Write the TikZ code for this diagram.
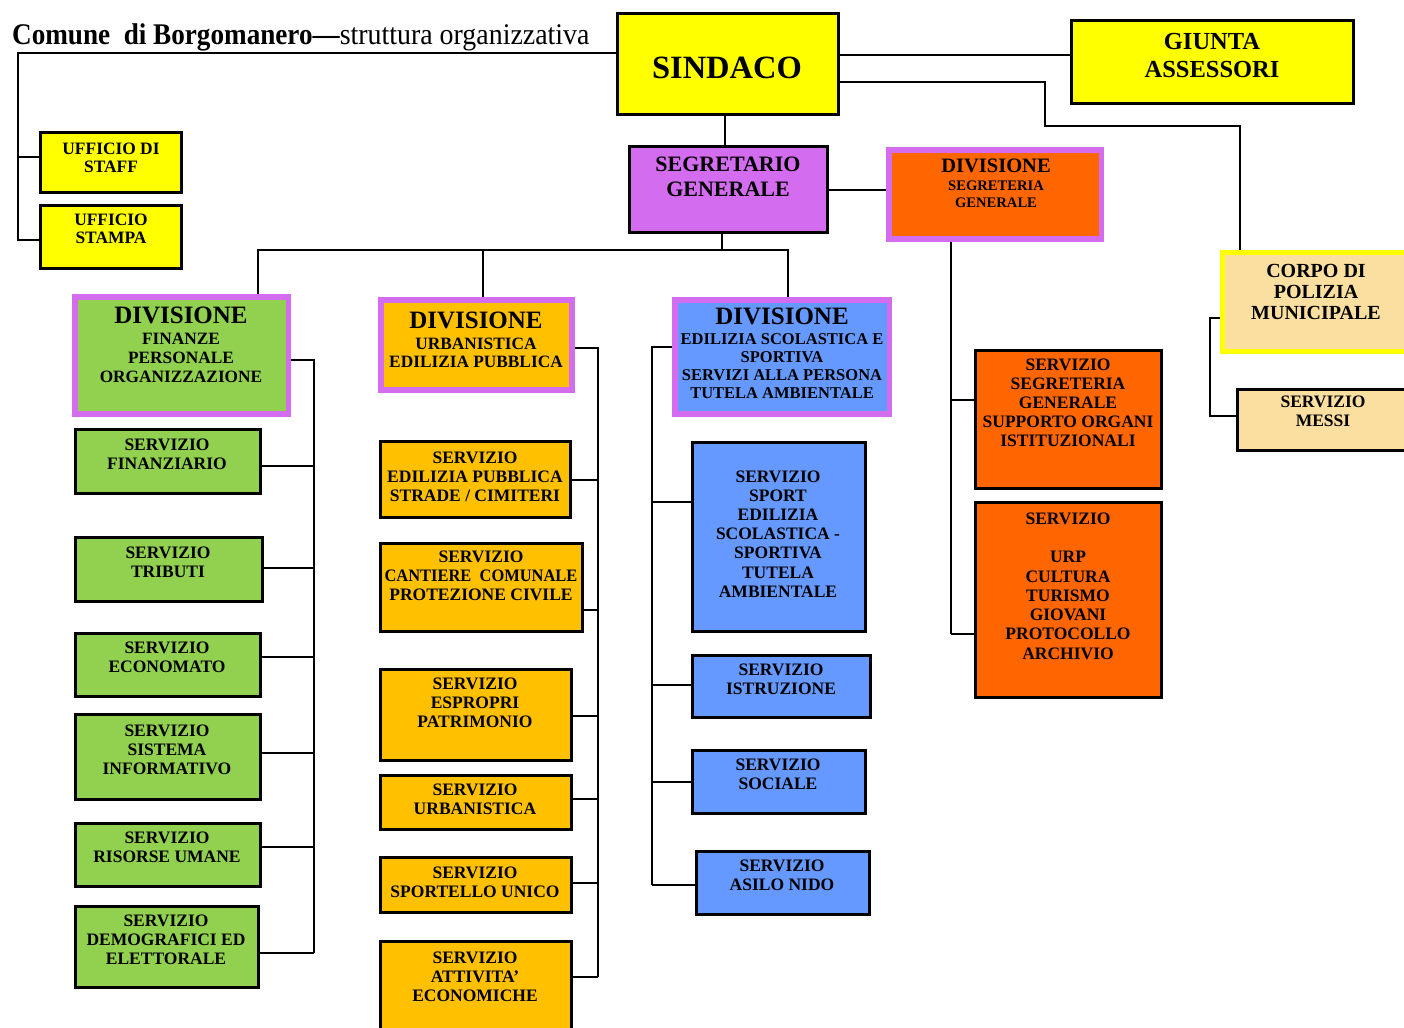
\documentclass[tikz,border=0pt]{standalone}
\usepackage{fontspec}
\setmainfont{Liberation Serif}
\usetikzlibrary{fit}
\definecolor{cYel}{HTML}{FFFF00}
\definecolor{cPur}{HTML}{D46CF0}
\definecolor{cGrn}{HTML}{92D050}
\definecolor{cAmb}{HTML}{FFC000}
\definecolor{cBlu}{HTML}{6699FF}
\definecolor{cOra}{HTML}{FF6600}
\definecolor{cSand}{HTML}{FADFA0}
\newcommand\bx[6]{\node[#2, fit={(#3,#4) (#5,#6)}] (#1) {};}
\newcommand\tx[5]{\node[#2] (#1) at (#3,#4) {#5};}
\newcommand\brc[3]{\coordinate (#1-b) at (#1.#2 |- 0,#3);}
\begin{document}
\begin{tikzpicture}[x=1pt,y=-1pt,
  box/.style={draw=black, line width=3pt, inner sep=0pt},
  frame/.style={fill=cPur, inner sep=0pt},
  inner/.style={inner sep=0pt},
  conn/.style={draw=black, line width=2.8pt},
  sv/.style={font=\fontsize{17.5}{19}\selectfont\bfseries, align=center, inner sep=0pt},
  dvt/.style={font=\fontsize{25}{25}\selectfont\bfseries, inner sep=0pt},
  dvs/.style={font=\fontsize{17.3}{18.7}\selectfont\bfseries, align=center, inner sep=0pt},
  big/.style={font=\fontsize{24.5}{28}\selectfont\bfseries, align=center, inner sep=0pt},
]
\useasboundingbox[fill=white] (0,0) rectangle (1404,1027);

% title
\node[anchor=base west, inner sep=0pt, font=\fontsize{30}{32}\selectfont] (title) at (12,45)
  {\scalebox{0.905}[1]{\bfseries Comune\ \ di Borgomanero---}\scalebox{0.93}[1]{struttura organizzativa}};

% top level boxes
\bx{sindaco}{box, fill=cYel}{617}{14}{838}{115}
\tx{sindaco-t}{font=\fontsize{32.5}{34}\selectfont\bfseries, inner sep=0pt}{727}{67.5}{SINDACO}
\bx{giunta}{box, fill=cYel}{1071}{21}{1353}{104}
\tx{giunta-t}{big}{1212}{55.5}{GIUNTA\\ASSESSORI}
\bx{staff}{box, fill=cYel}{40}{133}{181}{192}
\tx{staff-t}{sv, font=\fontsize{17.4}{18}\selectfont\bfseries}{111}{157.5}{UFFICIO DI\\STAFF}
\bx{stampa}{box, fill=cYel}{40}{205}{181}{268}
\tx{stampa-t}{sv, font=\fontsize{17.4}{18.5}\selectfont\bfseries}{111}{229}{UFFICIO\\STAMPA}
\bx{segr}{box, fill=cPur}{629}{147}{827}{232}
\tx{segr-t}{font=\fontsize{22}{25}\selectfont\bfseries, align=center, inner sep=0pt}{728}{177}{SEGRETARIO\\GENERALE}

% divisione segreteria
\bx{divseg}{frame}{886}{147}{1104}{242}
\bx{divseg-in}{inner, fill=cOra}{892}{153}{1099}{236}
\tx{divseg-t}{font=\fontsize{20.5}{20}\selectfont\bfseries, inner sep=0pt}{996}{165.5}{DIVISIONE}
\tx{divseg-s}{font=\fontsize{14.6}{16.5}\selectfont\bfseries, align=center, inner sep=0pt}{996}{194}{SEGRETERIA\\GENERALE}

% corpo polizia
\bx{corpo}{inner, fill=cYel}{1220}{250}{1412}{354}
\bx{corpo-in}{inner, fill=cSand}{1225}{255}{1412}{349}
\tx{corpo-t}{font=\fontsize{20}{21}\selectfont\bfseries, align=center, inner sep=0pt}{1316}{291.5}{CORPO DI\\POLIZIA\\MUNICIPALE}
\bx{messi}{box, fill=cSand}{1237}{389}{1412}{450}
\tx{messi-t}{sv}{1323}{411}{SERVIZIO\\MESSI}

% divisions
\bx{divfin}{frame}{72}{294}{291}{417}
\bx{divfin-in}{inner, fill=cGrn}{78}{300}{286}{411}
\tx{divfin-t}{dvt}{181}{315.5}{DIVISIONE}
\tx{divfin-s}{dvs, font=\fontsize{17.3}{19.2}\selectfont\bfseries}{181}{358}{FINANZE\\PERSONALE\\ORGANIZZAZIONE}

\bx{divurb}{frame}{378}{297}{575}{393}
\bx{divurb-in}{inner, fill=cAmb}{384}{303}{569}{387}
\tx{divurb-t}{dvt}{476}{320}{DIVISIONE}
\tx{divurb-s}{dvs}{476}{353}{URBANISTICA\\EDILIZIA PUBBLICA}

\bx{divedil}{frame}{672}{297}{892}{417}
\bx{divedil-in}{inner, fill=cBlu}{678}{303}{887}{411}
\tx{divedil-t}{dvt}{782}{316.5}{DIVISIONE}
\tx{divedil-s}{dvs, font=\fontsize{16.5}{18}\selectfont\bfseries}{782}{366}{EDILIZIA SCOLASTICA E\\SPORTIVA\\SERVIZI ALLA PERSONA\\TUTELA AMBIENTALE}

% green services
\bx{fin}{box, fill=cGrn}{75}{429}{260}{493}
\tx{fin-t}{sv}{167}{454}{SERVIZIO\\FINANZIARIO}
\bx{trib}{box, fill=cGrn}{75}{537}{262}{601}
\tx{trib-t}{sv}{168}{562}{SERVIZIO\\TRIBUTI}
\bx{econ}{box, fill=cGrn}{75}{633}{260}{696}
\tx{econ-t}{sv}{167}{657.5}{SERVIZIO\\ECONOMATO}
\bx{sist}{box, fill=cGrn}{75}{714}{260}{799}
\tx{sist-t}{sv}{167}{750}{SERVIZIO\\SISTEMA\\INFORMATIVO}
\bx{ris}{box, fill=cGrn}{75}{823}{260}{886}
\tx{ris-t}{sv}{167}{847.5}{SERVIZIO\\RISORSE UMANE}
\bx{demo}{box, fill=cGrn}{75}{906}{258}{987}
\tx{demo-t}{sv}{166}{940}{SERVIZIO\\DEMOGRAFICI ED\\ELETTORALE}

% amber services
\bx{edp}{box, fill=cAmb}{380}{441}{570}{517}
\tx{edp-t}{sv}{475}{477}{SERVIZIO\\EDILIZIA PUBBLICA\\STRADE / CIMITERI}
\bx{cant}{box, fill=cAmb}{380}{543}{582}{631}
\tx{cant-t}{sv}{481}{576}{SERVIZIO\\\scalebox{0.94}[1]{CANTIERE\ \ COMUNALE}\\PROTEZIONE CIVILE}
\bx{espr}{box, fill=cAmb}{380}{669}{571}{760}
\tx{espr-t}{sv}{475}{703}{SERVIZIO\\ESPROPRI\\PATRIMONIO}
\bx{urbs}{box, fill=cAmb}{380}{775}{571}{829}
\tx{urbs-t}{sv}{475}{799}{SERVIZIO\\URBANISTICA}
\bx{sptl}{box, fill=cAmb}{380}{857}{571}{912}
\tx{sptl-t}{sv}{475}{882.5}{SERVIZIO\\SPORTELLO UNICO}
\bx{att}{box, fill=cAmb}{380}{941}{571}{1040}
\tx{att-t}{sv}{475}{976.5}{SERVIZIO\\ATTIVITA’\\ECONOMICHE}

% blue services
\bx{sprt}{box, fill=cBlu}{692}{442}{865}{631}
\tx{sprt-t}{sv, font=\fontsize{17.5}{19.2}\selectfont\bfseries}{778}{534}{SERVIZIO\\SPORT\\EDILIZIA\\SCOLASTICA -\\SPORTIVA\\TUTELA\\AMBIENTALE}
\bx{istr}{box, fill=cBlu}{692}{655}{870}{717}
\tx{istr-t}{sv}{781}{679}{SERVIZIO\\ISTRUZIONE}
\bx{soc}{box, fill=cBlu}{692}{750}{865}{813}
\tx{soc-t}{sv}{778}{774}{SERVIZIO\\SOCIALE}
\bx{asilo}{box, fill=cBlu}{696}{851}{869}{914}
\tx{asilo-t}{sv}{782}{875}{SERVIZIO\\ASILO NIDO}

% orange services
\bx{segsv}{box, fill=cOra}{975}{350}{1161}{488}
\tx{segsv-t}{sv, font=\fontsize{17.5}{19.1}\selectfont\bfseries}{1068}{403}{SERVIZIO\\SEGRETERIA\\GENERALE\\SUPPORTO ORGANI\\ISTITUZIONALI}
\bx{urp}{box, fill=cOra}{975}{502}{1161}{697}
\tx{urp-t}{sv, font=\fontsize{17.5}{19.3}\selectfont\bfseries}{1068}{586}{SERVIZIO\\[19.3pt]URP\\CULTURA\\TURISMO\\GIOVANI\\PROTOCOLLO\\ARCHIVIO}

% ---- connectors ----
\coordinate (tl) at (18,53);
\brc{staff}{west}{157}
\brc{stampa}{west}{240}
\draw[conn] (sindaco.west |- tl) -- (tl) -- (tl |- stampa-b) -- (stampa-b);
\draw[conn] (tl |- staff-b) -- (staff-b);

\coordinate (gj) at (giunta.west |- 0,55);
\draw[conn] (gj -| sindaco.east) -- (gj);
\coordinate (pc1) at (1045,82);
\coordinate (pc2) at (1240,126);
\draw[conn] (pc1 -| sindaco.east) -- (pc1) |- (pc2) -- (pc2 |- corpo.north);

\coordinate (sg) at (725,0);
\draw[conn] (sg |- sindaco.south) -- (sg |- segr.north);
\coordinate (sd) at (0,190);
\draw[conn] (sd -| segr.east) -- (sd -| divseg.west);

\coordinate (bus) at (722,250);
\coordinate (b1) at (258,250);
\coordinate (b2) at (483,250);
\coordinate (b3) at (788,250);
\draw[conn] (bus |- segr.south) -- (bus);
\draw[conn] (b1 |- divfin.north) -- (b1) -- (b3) -- (b3 |- divedil.north);
\draw[conn] (b2) -- (b2 |- divurb.north);

% finanze
\coordinate (fT) at (314,360);
\brc{fin}{east}{466}
\brc{trib}{east}{568}
\brc{econ}{east}{657}
\brc{sist}{east}{753}
\brc{ris}{east}{847}
\brc{demo}{east}{953}
\draw[conn] (divfin.east |- fT) -- (fT) -- (fT |- demo-b);
\foreach \n in {fin,trib,econ,sist,ris,demo} \draw[conn] (\n-b) -- (\n-b -| fT);

% urbanistica
\coordinate (uT) at (598,348);
\brc{edp}{east}{480}
\brc{cant}{east}{610}
\brc{espr}{east}{716}
\brc{urbs}{east}{799}
\brc{sptl}{east}{883}
\brc{att}{east}{977}
\draw[conn] (divurb.east |- uT) -- (uT) -- (uT |- att-b);
\foreach \n in {edp,cant,espr,urbs,sptl,att} \draw[conn] (\n-b) -- (\n-b -| uT);

% edilizia
\coordinate (eT) at (652,347);
\brc{sprt}{west}{502}
\brc{istr}{west}{685}
\brc{soc}{west}{782}
\brc{asilo}{west}{885}
\draw[conn] (divedil.west |- eT) -- (eT) -- (eT |- asilo-b);
\foreach \n in {sprt,istr,soc,asilo} \draw[conn] (\n-b) -- (\n-b -| eT);

% segreteria
\coordinate (sT) at (951,0);
\brc{segsv}{west}{400}
\brc{urp}{west}{634}
\draw[conn] (sT |- divseg.south) -- (sT |- urp-b);
\foreach \n in {segsv,urp} \draw[conn] (\n-b) -- (\n-b -| sT);

% polizia
\coordinate (cT) at (1210,318);
\brc{messi}{west}{416}
\draw[conn] (corpo.west |- cT) -- (cT) -- (cT |- messi-b) -- (messi-b);
\end{tikzpicture}
\end{document}
